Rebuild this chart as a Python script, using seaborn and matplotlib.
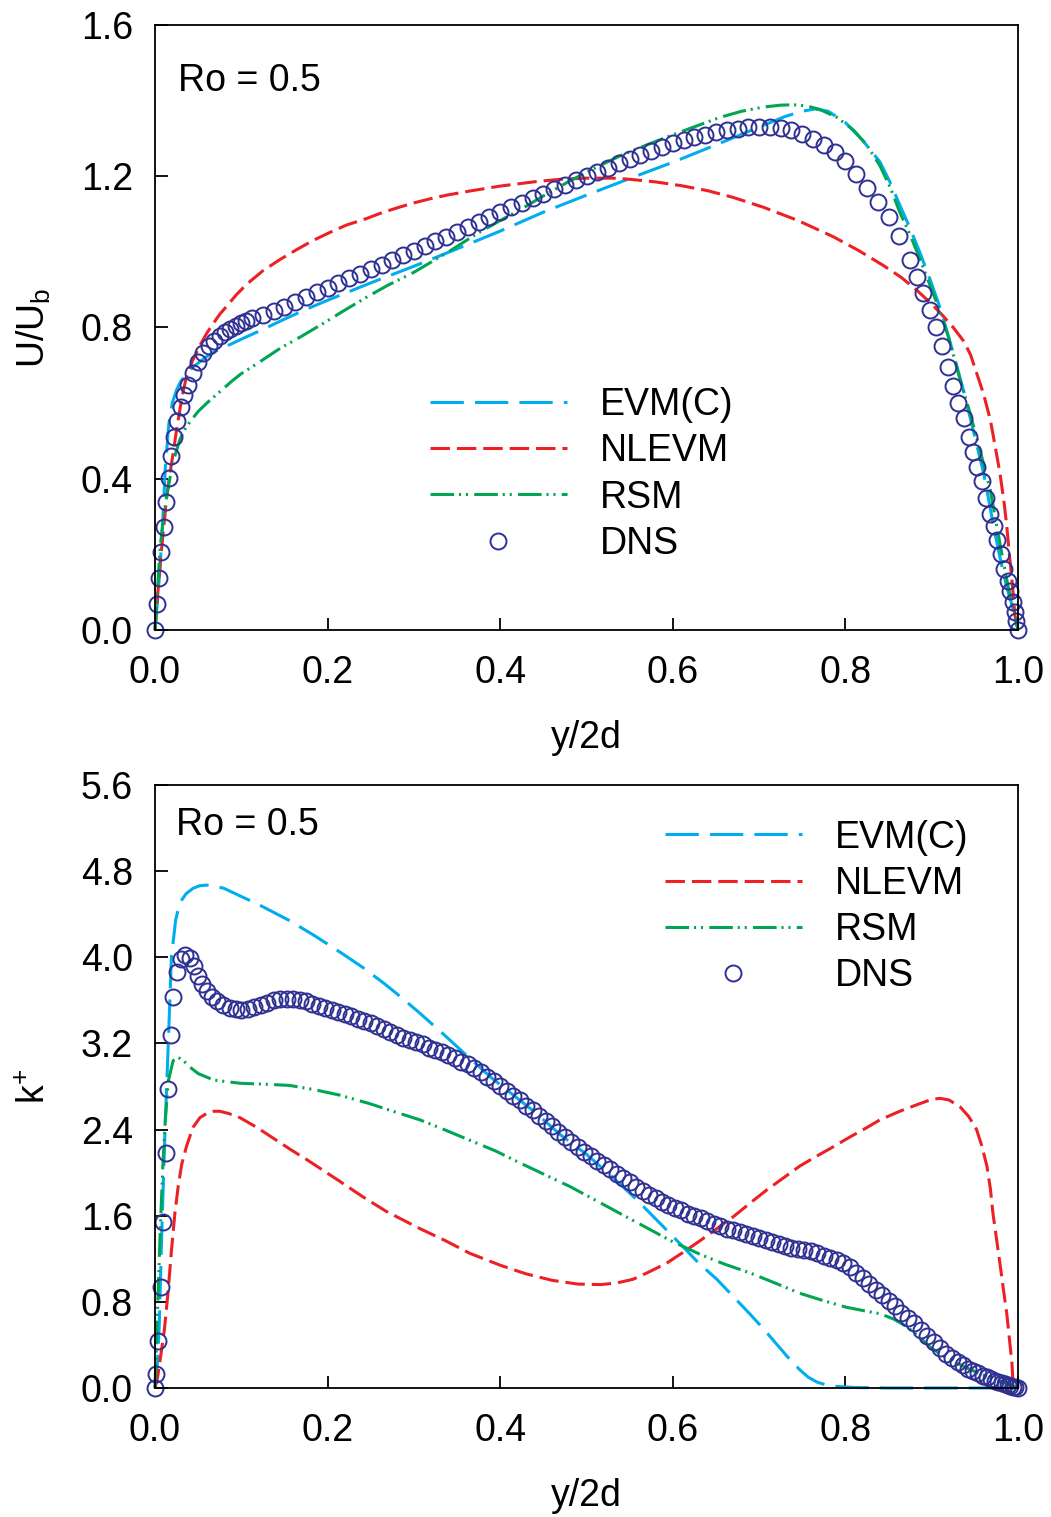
import numpy as np
import pandas as pd
import matplotlib
matplotlib.use("Agg")
import matplotlib.pyplot as plt
import seaborn as sns

# ---------------- data: top panel (U/Ub) ----------------
dns_u_x = [0.000, 0.0025, 0.005, 0.0075, 0.010, 0.013, 0.016, 0.019, 0.0225, 0.026,
           0.030, 0.034, 0.0385, 0.044, 0.050, 0.056, 0.062, 0.068, 0.075, 0.081,
           0.087, 0.094, 0.100, 0.106, 0.1125, 0.125, 0.1375, 0.150, 0.1625, 0.175,
           0.1875, 0.200, 0.2125, 0.225, 0.2375, 0.250, 0.2625, 0.275, 0.2875, 0.300,
           0.3125, 0.325, 0.3375, 0.350, 0.3625, 0.375, 0.3875, 0.400, 0.4125, 0.425,
           0.4375, 0.450, 0.4625, 0.475, 0.4875, 0.500, 0.5125, 0.525, 0.5375, 0.550,
           0.5625, 0.575, 0.5875, 0.600, 0.6125, 0.625, 0.6375, 0.650, 0.6625, 0.675,
           0.6875, 0.700, 0.7125, 0.725, 0.7375, 0.750, 0.7625, 0.775, 0.7875, 0.800,
           0.8125, 0.825, 0.8375, 0.850, 0.8625, 0.875, 0.8825, 0.890, 0.8975, 0.905,
           0.912, 0.919, 0.925, 0.931, 0.937, 0.943, 0.948, 0.953, 0.958, 0.963,
           0.968, 0.972, 0.976, 0.980, 0.984, 0.988, 0.991, 0.994, 0.9965, 0.998, 1.000]
dns_u = [0.000, 0.068, 0.137, 0.205, 0.272, 0.339, 0.403, 0.460, 0.511, 0.554,
         0.591, 0.622, 0.648, 0.680, 0.708, 0.732, 0.750, 0.765, 0.778, 0.788,
         0.797, 0.805, 0.812, 0.818, 0.824, 0.834, 0.844, 0.855, 0.867, 0.880,
         0.893, 0.905, 0.918, 0.930, 0.942, 0.954, 0.966, 0.978, 0.991, 1.003,
         1.016, 1.028, 1.040, 1.053, 1.066, 1.079, 1.092, 1.106, 1.118, 1.130,
         1.142, 1.154, 1.166, 1.177, 1.189, 1.200, 1.212, 1.223, 1.234, 1.245,
         1.256, 1.266, 1.277, 1.287, 1.295, 1.303, 1.310, 1.316, 1.321, 1.326,
         1.329, 1.331, 1.331, 1.328, 1.322, 1.312, 1.298, 1.283, 1.265, 1.240,
         1.207, 1.170, 1.133, 1.092, 1.043, 0.978, 0.933, 0.890, 0.847, 0.800,
         0.752, 0.695, 0.645, 0.600, 0.560, 0.510, 0.470, 0.432, 0.395, 0.350,
         0.308, 0.274, 0.238, 0.200, 0.162, 0.130, 0.102, 0.075, 0.047, 0.025, 0.000]

evm_u_x = [0.000, 0.003, 0.006, 0.009, 0.012, 0.016, 0.020, 0.025, 0.030, 0.037,
           0.045, 0.055, 0.065, 0.075, 0.087, 0.100, 0.125, 0.150, 0.175, 0.200,
           0.250, 0.300, 0.350, 0.400, 0.450, 0.500, 0.550, 0.600, 0.650, 0.700,
           0.730, 0.750, 0.765, 0.780, 0.800, 0.820, 0.840, 0.852, 0.863, 0.875,
           0.886, 0.898, 0.910, 0.920, 0.929, 0.937, 0.944, 0.952, 0.960, 0.966,
           0.971, 0.977, 0.983, 0.988, 0.993, 0.997, 1.000]
evm_u = [0.000, 0.080, 0.170, 0.290, 0.430, 0.545, 0.600, 0.635, 0.658, 0.679,
         0.697, 0.715, 0.731, 0.743, 0.755, 0.769, 0.795, 0.822, 0.848, 0.872,
         0.918, 0.962, 1.008, 1.055, 1.105, 1.150, 1.194, 1.237, 1.283, 1.330,
         1.358, 1.372, 1.378, 1.372, 1.342, 1.295, 1.238, 1.183, 1.124, 1.062,
         1.000, 0.928, 0.850, 0.772, 0.699, 0.632, 0.567, 0.492, 0.416, 0.345,
         0.283, 0.215, 0.151, 0.105, 0.066, 0.030, 0.000]

nlevm_u_x = [0.000, 0.003, 0.006, 0.010, 0.0135, 0.017, 0.021, 0.025, 0.029, 0.033,
             0.037, 0.044, 0.052, 0.060, 0.068, 0.075, 0.083, 0.094, 0.106, 0.125,
             0.145, 0.165, 0.183, 0.205, 0.222, 0.245, 0.261, 0.280, 0.299, 0.320,
             0.338, 0.365, 0.400, 0.442, 0.470, 0.500, 0.530, 0.550, 0.580, 0.610,
             0.640, 0.670, 0.705, 0.745, 0.786, 0.815, 0.844, 0.865, 0.883, 0.900,
             0.913, 0.925, 0.937, 0.945, 0.952, 0.960, 0.968, 0.974, 0.979, 0.984,
             0.987, 0.990, 0.993, 0.9965, 1.000]
nlevm_u = [0.000, 0.090, 0.176, 0.270, 0.350, 0.410, 0.467, 0.530, 0.585, 0.635,
           0.675, 0.715, 0.752, 0.785, 0.812, 0.835, 0.856, 0.886, 0.914, 0.950,
           0.980, 1.007, 1.030, 1.054, 1.071, 1.088, 1.102, 1.116, 1.129, 1.141,
           1.150, 1.161, 1.174, 1.186, 1.192, 1.195, 1.195, 1.192, 1.185, 1.175,
           1.162, 1.144, 1.118, 1.083, 1.040, 1.004, 0.964, 0.932, 0.898, 0.862,
           0.831, 0.800, 0.764, 0.728, 0.680, 0.625, 0.555, 0.480, 0.416, 0.335,
           0.274, 0.200, 0.132, 0.038, 0.000]

rsm_u_x = [0.000, 0.003, 0.006, 0.010, 0.014, 0.018, 0.023, 0.029, 0.035, 0.041,
           0.050, 0.060, 0.075, 0.090, 0.100, 0.120, 0.145, 0.170, 0.195, 0.220,
           0.245, 0.270, 0.300, 0.340, 0.373, 0.400, 0.423, 0.450, 0.481, 0.510,
           0.539, 0.570, 0.597, 0.630, 0.655, 0.680, 0.705, 0.725, 0.740, 0.755,
           0.770, 0.790, 0.809, 0.825, 0.840, 0.852, 0.863, 0.875, 0.886, 0.898,
           0.910, 0.920, 0.933, 0.943, 0.952, 0.960, 0.968, 0.975, 0.983, 0.989,
           0.9945, 1.000]
rsm_u = [0.000, 0.110, 0.220, 0.300, 0.360, 0.410, 0.460, 0.505, 0.532, 0.552,
         0.578, 0.600, 0.630, 0.660, 0.678, 0.707, 0.745, 0.777, 0.811, 0.846,
         0.880, 0.912, 0.946, 1.000, 1.048, 1.083, 1.111, 1.148, 1.188, 1.222,
         1.254, 1.283, 1.307, 1.335, 1.356, 1.372, 1.383, 1.388, 1.389, 1.386,
         1.377, 1.356, 1.323, 1.282, 1.228, 1.170, 1.105, 1.045, 0.983, 0.912,
         0.841, 0.770, 0.661, 0.585, 0.510, 0.440, 0.369, 0.280, 0.180, 0.110,
         0.057, 0.000]

# ---------------- data: bottom panel (k+) ----------------
dns_k_x = [0.000, 0.0012, 0.0039, 0.0066, 0.0097, 0.0127, 0.0155, 0.018, 0.021, 0.025,
           0.030, 0.035, 0.040, 0.045, 0.050, 0.055, 0.060, 0.066, 0.072, 0.079,
           0.087, 0.094, 0.100, 0.1075, 0.115, 0.1225, 0.130, 0.1375, 0.145, 0.1525,
           0.160, 0.1675, 0.175, 0.1825, 0.190, 0.1975, 0.205, 0.2125, 0.220, 0.2275,
           0.235, 0.2425, 0.250, 0.2575, 0.265, 0.2725, 0.280, 0.2875, 0.295, 0.3025,
           0.310, 0.3175, 0.325, 0.3325, 0.340, 0.3475, 0.355, 0.3625, 0.370, 0.3775,
           0.385, 0.3925, 0.400, 0.4075, 0.415, 0.4225, 0.430, 0.4375, 0.445, 0.4525,
           0.460, 0.4675, 0.475, 0.4825, 0.490, 0.4975, 0.505, 0.5125, 0.520, 0.5275,
           0.535, 0.5425, 0.550, 0.5575, 0.565, 0.5725, 0.580, 0.5875, 0.595, 0.6025,
           0.610, 0.6175, 0.625, 0.6325, 0.640, 0.6475, 0.655, 0.6625, 0.670, 0.6775,
           0.685, 0.6925, 0.700, 0.7075, 0.715, 0.7225, 0.730, 0.7375, 0.745, 0.7525,
           0.760, 0.7675, 0.775, 0.7825, 0.790, 0.7975, 0.805, 0.8125, 0.820, 0.8275,
           0.835, 0.8425, 0.850, 0.8575, 0.865, 0.8725, 0.880, 0.8875, 0.895, 0.9025,
           0.910, 0.917, 0.924, 0.930, 0.936, 0.942, 0.948, 0.954, 0.959, 0.964,
           0.969, 0.973, 0.977, 0.981, 0.985, 0.988, 0.991, 0.994, 0.997, 1.000]
dns_k = [0.00, 0.13, 0.44, 0.94, 1.54, 2.18, 2.78, 3.28, 3.63, 3.86,
         3.98, 4.02, 3.99, 3.92, 3.83, 3.75, 3.69, 3.63, 3.59, 3.56,
         3.53, 3.52, 3.51, 3.52, 3.54, 3.56, 3.58, 3.60, 3.61, 3.615,
         3.61, 3.60, 3.59, 3.57, 3.55, 3.53, 3.51, 3.49, 3.47, 3.45,
         3.43, 3.41, 3.39, 3.36, 3.33, 3.31, 3.28, 3.25, 3.23, 3.21,
         3.19, 3.16, 3.14, 3.12, 3.09, 3.06, 3.03, 3.01, 2.97, 2.93,
         2.89, 2.85, 2.80, 2.76, 2.71, 2.67, 2.62, 2.58, 2.53, 2.48,
         2.43, 2.38, 2.33, 2.28, 2.24, 2.19, 2.15, 2.11, 2.07, 2.03,
         1.99, 1.95, 1.91, 1.87, 1.83, 1.79, 1.76, 1.73, 1.70, 1.67,
         1.65, 1.62, 1.60, 1.58, 1.55, 1.52, 1.50, 1.48, 1.47, 1.45,
         1.43, 1.41, 1.39, 1.37, 1.36, 1.34, 1.32, 1.30, 1.29, 1.28,
         1.27, 1.25, 1.23, 1.21, 1.19, 1.16, 1.12, 1.07, 1.02, 0.97,
         0.91, 0.86, 0.81, 0.76, 0.70, 0.65, 0.60, 0.54, 0.48, 0.43,
         0.37, 0.32, 0.28, 0.24, 0.21, 0.18, 0.155, 0.135, 0.115, 0.098,
         0.082, 0.068, 0.056, 0.045, 0.035, 0.027, 0.019, 0.012, 0.006, 0.000]

evm_k_x = [0.000, 0.003, 0.005, 0.0077, 0.0116, 0.0154, 0.019, 0.024, 0.029, 0.036,
           0.044, 0.052, 0.060, 0.070, 0.080, 0.0985, 0.120, 0.156, 0.185, 0.214,
           0.240, 0.265, 0.285, 0.307, 0.335, 0.365, 0.390, 0.420, 0.442, 0.470,
           0.500, 0.530, 0.558, 0.574, 0.590, 0.612, 0.630, 0.651, 0.670, 0.689,
           0.705, 0.720, 0.735, 0.747, 0.757, 0.767, 0.777, 0.790, 0.810, 0.850, 1.000]
evm_k = [0.00, 0.25, 0.60, 1.40, 2.39, 3.20, 4.00, 4.35, 4.51, 4.59,
         4.64, 4.665, 4.67, 4.66, 4.64, 4.57, 4.49, 4.34, 4.20, 4.05,
         3.91, 3.76, 3.63, 3.48, 3.28, 3.06, 2.88, 2.69, 2.55, 2.35,
         2.17, 1.96, 1.75, 1.62, 1.49, 1.31, 1.16, 1.01, 0.85, 0.69,
         0.55, 0.41, 0.27, 0.17, 0.10, 0.055, 0.030, 0.015, 0.005, 0.000, 0.000]

nlevm_k_x = [0.000, 0.003, 0.007, 0.011, 0.015, 0.019, 0.023, 0.027, 0.031, 0.0367,
             0.044, 0.052, 0.060, 0.068, 0.075, 0.085, 0.0985, 0.118, 0.137, 0.156,
             0.176, 0.195, 0.214, 0.240, 0.268, 0.307, 0.336, 0.365, 0.400, 0.430,
             0.460, 0.490, 0.516, 0.535, 0.554, 0.573, 0.593, 0.612, 0.632, 0.651,
             0.670, 0.690, 0.709, 0.728, 0.747, 0.766, 0.786, 0.805, 0.823, 0.840,
             0.863, 0.886, 0.900, 0.9096, 0.920, 0.933, 0.943, 0.952, 0.958, 0.964,
             0.968, 0.971, 0.975, 0.979, 0.983, 0.987, 0.990, 0.993, 0.9945, 1.000]
nlevm_k = [0.00, 0.10, 0.32, 0.55, 0.88, 1.27, 1.62, 1.88, 2.08, 2.25,
           2.42, 2.51, 2.55, 2.57, 2.57, 2.55, 2.51, 2.42, 2.32, 2.22,
           2.12, 2.02, 1.92, 1.78, 1.64, 1.48, 1.37, 1.25, 1.14, 1.06,
           1.00, 0.965, 0.96, 0.975, 1.01, 1.08, 1.16, 1.26, 1.37, 1.48,
           1.59, 1.72, 1.84, 1.95, 2.06, 2.15, 2.24, 2.33, 2.41, 2.49,
           2.57, 2.64, 2.68, 2.69, 2.675, 2.61, 2.52, 2.40, 2.25, 2.06,
           1.85, 1.62, 1.39, 1.16, 0.92, 0.69, 0.46, 0.23, 0.01, 0.00]

rsm_k_x = [0.000, 0.0027, 0.0058, 0.009, 0.012, 0.0154, 0.021, 0.027, 0.033, 0.0405,
           0.050, 0.068, 0.0985, 0.130, 0.156, 0.185, 0.214, 0.249, 0.268, 0.307,
           0.335, 0.365, 0.395, 0.423, 0.452, 0.481, 0.516, 0.539, 0.574, 0.597,
           0.632, 0.660, 0.689, 0.720, 0.747, 0.775, 0.801, 0.820, 0.840, 0.856,
           0.871, 0.885, 0.898, 0.915, 0.937, 0.955, 0.975, 0.990, 1.000]
rsm_k = [0.00, 0.66, 1.40, 2.05, 2.50, 2.85, 3.04, 3.07, 3.04, 2.98,
         2.92, 2.86, 2.83, 2.82, 2.81, 2.77, 2.72, 2.64, 2.59, 2.49,
         2.40, 2.30, 2.20, 2.09, 1.98, 1.87, 1.72, 1.62, 1.47, 1.37,
         1.24, 1.15, 1.07, 0.97, 0.88, 0.81, 0.75, 0.72, 0.69, 0.64,
         0.57, 0.48, 0.38, 0.29, 0.20, 0.135, 0.074, 0.030, 0.000]

labels = ["EVM(C)", "NLEVM", "RSM", "DNS"]
x_ticks = [0.0, 0.2, 0.4, 0.6, 0.8, 1.0]
u_ticks = [0.0, 0.4, 0.8, 1.2, 1.6]
k_ticks = [0.0, 0.8, 1.6, 2.4, 3.2, 4.0, 4.8, 5.6]

# ---------------- styling ----------------
sns.set_theme(style="white")
plt.rcParams["font.family"] = ["Liberation Sans", "DejaVu Sans"]
plt.rcParams["mathtext.fontset"] = "custom"
plt.rcParams["mathtext.rm"] = "Liberation Sans"
plt.rcParams["mathtext.it"] = "Liberation Sans:italic"
plt.rcParams["lines.scale_dashes"] = False
plt.rcParams["text.color"] = "black"
plt.rcParams["axes.labelcolor"] = "black"

C_EVM = "#00AEEF"
C_NL = "#ED2024"
C_RSM = "#00A651"
C_DNS = "#2E3192"
LS_EVM = (0, (24, 8))
LS_NL = (0, (14, 5))
LS_RSM = (0, (17, 3.5, 1.5, 3.5, 1.5, 4.5))
FS = 27

fig = plt.figure(figsize=(10.51, 15.17), dpi=100)
ax1 = fig.add_axes([0.14748, 0.58471, 0.82112, 0.39881])
ax2 = fig.add_axes([0.14748, 0.08504, 0.82112, 0.39750])


def draw_panel(ax, ex, ey, nx, ny, rx, ry, dx, dy):
    sns.lineplot(x=ex, y=ey, ax=ax, color=C_EVM, linestyle=LS_EVM, linewidth=2.2,
                 estimator=None, sort=False, label=labels[0], clip_on=False)
    sns.lineplot(x=nx, y=ny, ax=ax, color=C_NL, linestyle=LS_NL, linewidth=2.2,
                 estimator=None, sort=False, label=labels[1], clip_on=False)
    sns.lineplot(x=rx, y=ry, ax=ax, color=C_RSM, linestyle=LS_RSM, linewidth=2.2,
                 estimator=None, sort=False, label=labels[2], clip_on=False)
    sns.lineplot(x=dx, y=dy, ax=ax, color=C_DNS, linestyle="none", marker="o",
                 markersize=11.5, markerfacecolor="none", markeredgecolor=C_DNS,
                 markeredgewidth=1.4, estimator=None, sort=False, label=labels[3],
                 clip_on=False)


draw_panel(ax1, evm_u_x, evm_u, nlevm_u_x, nlevm_u, rsm_u_x, rsm_u, dns_u_x, dns_u)
draw_panel(ax2, evm_k_x, evm_k, nlevm_k_x, nlevm_k, rsm_k_x, rsm_k, dns_k_x, dns_k)

for ax, yt, ylim in [(ax1, u_ticks, 1.6), (ax2, k_ticks, 5.6)]:
    ax.set_xlim(0, 1)
    ax.set_ylim(0, ylim)
    ax.set_xticks(x_ticks)
    ax.set_yticks(yt)
    ax.set_xticklabels([f"{v:.1f}" for v in x_ticks])
    ax.set_yticklabels([f"{v:.1f}" for v in yt])
    ax.tick_params(axis="both", direction="in", length=9, width=1.3, colors="black",
                   labelsize=FS, bottom=True, left=True, top=False, right=False)
    ax.tick_params(axis="x", pad=18)
    ax.tick_params(axis="y", pad=16)
    for sp in ax.spines.values():
        sp.set_color("black")
        sp.set_linewidth(1.3)
    ax.set_xlabel("y/2d", fontsize=FS, labelpad=21, color="black")

ax1.set_ylabel(r"U/U$_\mathrm{b}$", fontsize=FS, labelpad=20, color="black")
ax2.set_ylabel(r"k$^{+}$", fontsize=FS, labelpad=20, color="black")

ax1.text(0.027, 0.907, "Ro = 0.5", transform=ax1.transAxes, fontsize=FS,
         ha="left", va="center", color="black")
ax2.text(0.024, 0.934, "Ro = 0.5", transform=ax2.transAxes, fontsize=FS,
         ha="left", va="center", color="black")

leg_kw = dict(frameon=False, fontsize=FS, handlelength=3.65, handletextpad=0.88,
              labelspacing=0.27, borderpad=0, borderaxespad=0, loc="center left",
              labelcolor="black")
ax1.legend(bbox_to_anchor=(0.3187, 0.257), **leg_kw)
ax2.legend(bbox_to_anchor=(0.591, 0.798), **leg_kw)

fig.savefig("out.png", dpi=100)
